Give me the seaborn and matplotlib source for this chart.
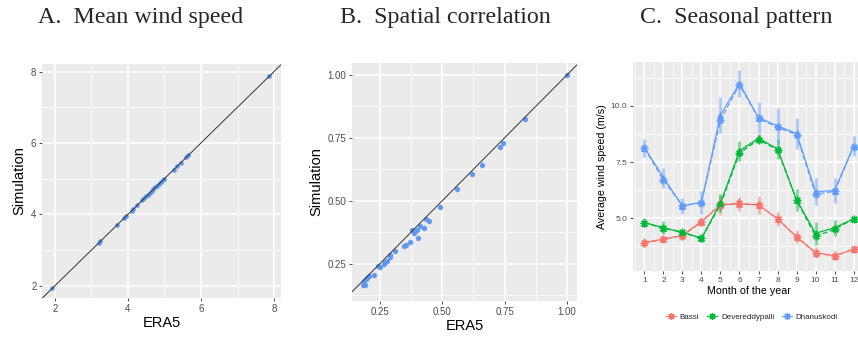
import numpy as np
import pandas as pd
import matplotlib
matplotlib.use("Agg")
import matplotlib.pyplot as plt
from matplotlib.lines import Line2D
from matplotlib.ticker import FixedLocator
import seaborn as sns

# ---------------- data ----------------
# Panel A: mean wind speed, ERA5 vs simulation
era5_a = [1.93, 3.20, 3.25, 3.70, 3.90, 3.95, 4.10, 4.15, 4.25, 4.40, 4.45, 4.50,
          4.55, 4.60, 4.65, 4.70, 4.75, 4.80, 4.85, 4.90, 4.95, 5.00, 5.25, 5.35,
          5.45, 5.60, 5.65, 7.87]
sim_a = [1.93, 3.19, 3.25, 3.70, 3.90, 3.96, 4.10, 4.14, 4.26, 4.41, 4.45, 4.51,
         4.55, 4.60, 4.66, 4.70, 4.76, 4.80, 4.86, 4.90, 4.95, 5.00, 5.24, 5.35,
         5.44, 5.61, 5.65, 7.87]

# Panel B: spatial correlation, ERA5 vs simulation
era5_b = [0.180, 0.188, 0.186, 0.192, 0.198, 0.205, 0.225, 0.240, 0.252, 0.265, 0.272,
          0.278, 0.290, 0.292, 0.312, 0.345, 0.355, 0.372, 0.378, 0.385, 0.398, 0.402,
          0.412, 0.425, 0.436, 0.445, 0.490, 0.558, 0.618, 0.658, 0.732, 0.745, 0.834, 1.000]
sim_b = [0.165, 0.163, 0.182, 0.188, 0.193, 0.200, 0.205, 0.240, 0.235, 0.250, 0.255,
         0.262, 0.275, 0.285, 0.300, 0.320, 0.325, 0.335, 0.385, 0.372, 0.385, 0.352,
         0.400, 0.390, 0.428, 0.420, 0.476, 0.545, 0.605, 0.642, 0.715, 0.728, 0.827, 1.000]

# Panel C: seasonal pattern
months = list(range(1, 13))
sites = ["Bassi", "Devereddypalli", "Dhanuskodi"]
bassi_era5 = [3.92, 4.07, 4.24, 4.85, 5.59, 5.64, 5.59, 4.97, 4.18, 3.47, 3.32, 3.62]
bassi_sim = [3.90, 4.06, 4.22, 4.83, 5.62, 5.66, 5.60, 4.98, 4.15, 3.45, 3.32, 3.62]
bassi_err = [0.20, 0.15, 0.20, 0.20, 0.45, 0.30, 0.40, 0.30, 0.30, 0.25, 0.20, 0.15]
dev_era5 = [4.81, 4.58, 4.38, 4.11, 5.67, 8.00, 8.56, 8.09, 5.82, 4.33, 4.58, 4.97]
dev_sim = [4.80, 4.55, 4.37, 4.10, 5.60, 7.90, 8.50, 8.05, 5.80, 4.20, 4.50, 4.97]
dev_err = [0.20, 0.30, 0.10, 0.15, 0.40, 0.45, 0.20, 0.45, 0.50, 0.50, 0.35, 0.15]
dhan_era5 = [8.15, 6.81, 5.55, 5.71, 9.60, 11.00, 9.48, 9.11, 8.78, 6.19, 6.23, 8.22]
dhan_sim = [8.12, 6.70, 5.55, 5.70, 9.38, 10.95, 9.45, 9.05, 8.72, 6.07, 6.20, 8.18]
dhan_err = [0.40, 0.45, 0.35, 0.50, 0.80, 0.60, 0.70, 0.80, 0.70, 0.60, 0.55, 0.45]

colors = ["#F8766D", "#00BA38", "#619CFF"]
pt_color = "#5E97F0"

# ---------------- style ----------------
sns.set_theme(style="darkgrid", rc={
    "axes.facecolor": "#EBEBEB",
    "grid.color": "white",
    "axes.edgecolor": "#EBEBEB",
    "xtick.color": "#333333",
    "ytick.color": "#333333",
    "xtick.labelcolor": "#4D4D4D",
    "ytick.labelcolor": "#4D4D4D",
    "xtick.bottom": True,
    "ytick.left": True,
    "xtick.major.size": 2.5,
    "ytick.major.size": 2.5,
    "xtick.major.width": 0.6,
    "ytick.major.width": 0.6,
    "xtick.major.pad": 1.5,
    "ytick.major.pad": 1.5,
    "axes.labelcolor": "black",
})
plt.rcParams["font.family"] = ["Liberation Sans", "DejaVu Sans"]

W, H = 858, 338
fig = plt.figure(figsize=(W / 100, H / 100), dpi=100)


def add_ax(l, r, t, b):
    return fig.add_axes([l / W, 1 - b / H, (r - l) / W, (b - t) / H])


def style_grid(ax, xmaj, xmin, ymaj, ymin):
    ax.xaxis.set_major_locator(FixedLocator(xmaj))
    ax.yaxis.set_major_locator(FixedLocator(ymaj))
    ax.xaxis.set_minor_locator(FixedLocator(xmin))
    ax.yaxis.set_minor_locator(FixedLocator(ymin))
    ax.grid(which="major", color="white", linewidth=1.1)
    ax.grid(which="minor", color="white", linewidth=0.55)
    ax.tick_params(which="minor", length=0)
    for s in ax.spines.values():
        s.set_visible(False)
    ax.set_axisbelow(True)


# ---------------- Panel A ----------------
axA = add_ax(42, 281, 64, 298)
dfA = pd.DataFrame({"ERA5": era5_a, "Simulation": sim_a})
axA.errorbar(dfA["ERA5"], dfA["Simulation"], yerr=0.04, xerr=0.04, fmt="none",
             ecolor=pt_color, alpha=0.35, elinewidth=1.0)
sns.scatterplot(data=dfA, x="ERA5", y="Simulation", ax=axA, color=pt_color,
                s=9, edgecolor=pt_color, linewidth=0.3, zorder=3)
axA.axline((0, 0), slope=1, color="#333333", linewidth=0.7, zorder=4)
axA.set_xlim(1.65, 8.19)
axA.set_ylim(1.66, 8.21)
style_grid(axA, [2, 4, 6, 8], [3, 5, 7], [2, 4, 6, 8], [3, 5, 7])
axA.set_xticklabels(["2", "4", "6", "8"], fontsize=7)
axA.set_yticklabels(["2", "4", "6", "8"], fontsize=7)
axA.set_xlabel("ERA5", fontsize=10.5, labelpad=2)
axA.set_ylabel("Simulation", fontsize=10.5, labelpad=3)

# ---------------- Panel B ----------------
axB = add_ax(352, 577, 63, 301)
dfB = pd.DataFrame({"ERA5": era5_b, "Simulation": sim_b})
axB.errorbar(dfB["ERA5"], dfB["Simulation"], yerr=0.012, xerr=0.005, fmt="none",
             ecolor=pt_color, alpha=0.35, elinewidth=1.0)
sns.scatterplot(data=dfB, x="ERA5", y="Simulation", ax=axB, color=pt_color,
                s=12, edgecolor=pt_color, linewidth=0.3, zorder=3)
axB.axline((0, 0), slope=1, color="#333333", linewidth=0.7, zorder=4)
axB.set_xlim(0.1376, 1.041)
axB.set_ylim(0.101, 1.048)
bt = [0.25, 0.5, 0.75, 1.0]
btl = ["0.25", "0.50", "0.75", "1.00"]
style_grid(axB, bt, [0.375, 0.625, 0.875], bt, [0.125, 0.375, 0.625, 0.875])
axB.set_xticklabels(btl, fontsize=7)
axB.set_yticklabels(btl, fontsize=7)
axB.set_xlabel("ERA5", fontsize=10.5, labelpad=2)
axB.set_ylabel("Simulation", fontsize=10.5, labelpad=3)

# ---------------- Panel C ----------------
axC = add_ax(633, 865, 62, 271)
era5_c = [bassi_era5, dev_era5, dhan_era5]
sim_c = [bassi_sim, dev_sim, dhan_sim]
err_c = [bassi_err, dev_err, dhan_err]
rows = []
for site, e, s, er in zip(sites, era5_c, sim_c, err_c):
    for m, ve, vs, r in zip(months, e, s, er):
        rows.append({"month": m, "site": site, "source": "ERA5", "wind": ve, "err": r})
        rows.append({"month": m, "site": site, "source": "Simulation", "wind": vs, "err": r})
dfC = pd.DataFrame(rows)
pal = dict(zip(sites, colors))
dE = dfC[dfC.source == "ERA5"]
dS = dfC[dfC.source == "Simulation"]
for site in sites:
    d = dE[dE.site == site]
    axC.errorbar(d["month"], d["wind"], yerr=d["err"], fmt="none",
                 ecolor=pal[site], alpha=0.5, elinewidth=2.0, zorder=2)
sns.lineplot(data=dS, x="month", y="wind", hue="site", palette=pal,
             hue_order=sites, marker=(8, 2, 0), markersize=5.5, markeredgewidth=0.9,
             linewidth=0.9, linestyle=(0, (4, 2)),
             ax=axC, legend=False, zorder=3)
sns.lineplot(data=dE, x="month", y="wind", hue="site", palette=pal,
             hue_order=sites, marker="^", markersize=4.2, markeredgewidth=0.5,
             linewidth=0.9, ax=axC, legend=False, zorder=4)
for ln in axC.lines:
    if ln.get_marker() not in (None, "None", ""):
        ln.set_markeredgecolor(ln.get_color())
        ln.set_markerfacecolor(ln.get_color())
axC.set_xlim(0.4, 12.6)
axC.set_ylim(2.65, 11.96)
style_grid(axC, months, [m + 0.5 for m in range(0, 13)],
           [5.0, 7.5, 10.0], [3.75, 6.25, 8.75, 11.25])
axC.set_xticklabels([str(m) for m in months], fontsize=6)
axC.set_yticklabels(["5.0", "7.5", "10.0"], fontsize=6)
axC.set_xlabel("Month of the year", fontsize=7.7, labelpad=1.5)
axC.set_ylabel("Average wind speed (m/s)", fontsize=7.7, labelpad=3)

handles = [Line2D([0], [0], color=c, marker=(8, 2, 0), markersize=5,
                  markeredgewidth=0.9, linewidth=0.9) for c in colors]
leg = fig.legend(handles, sites, loc="center", ncol=3, frameon=False,
                 bbox_to_anchor=(752 / W, 1 - 317 / H), fontsize=5.8,
                 handlelength=1.2, handletextpad=0.5, columnspacing=1.0)

# ---------------- Titles ----------------
tfont = dict(family=["Liberation Serif", "DejaVu Serif"], fontsize=17.3,
             ha="center", va="center")
fig.text(141 / W, 1 - 18 / H, "A.  Mean wind speed", **tfont)
fig.text(445 / W, 1 - 18 / H, "B.  Spatial correlation", **tfont)
fig.text(736 / W, 1 - 18 / H, "C.  Seasonal pattern", **tfont)

fig.savefig("out.png", dpi=100)
